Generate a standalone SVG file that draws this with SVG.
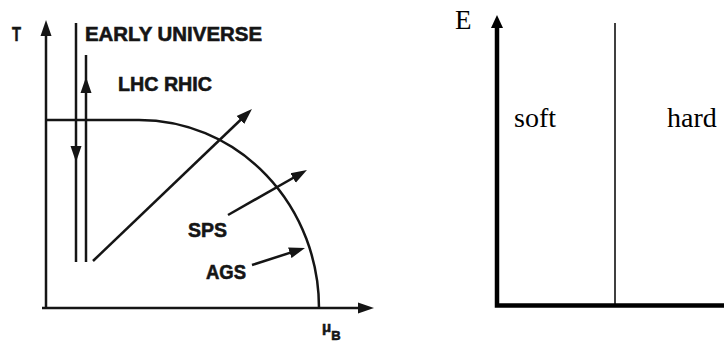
<svg xmlns="http://www.w3.org/2000/svg" width="724" height="343" viewBox="0 0 724 343">
<style>
.ln{fill:none;stroke:#151515;stroke-width:2.5;stroke-linecap:butt}
.lb{font-family:"Liberation Sans",Arial,sans-serif;font-weight:bold;fill:#151515;stroke:#151515;stroke-width:0.6}
.sf{font-family:"Liberation Serif","Times New Roman",serif;fill:#000}
.ax{fill:none;stroke:#000;stroke-width:4.5;stroke-linejoin:miter}
</style>
<defs>
<marker id="ah" viewBox="-8 -6 16 12" markerUnits="userSpaceOnUse" markerWidth="16" markerHeight="12" refX="0" refY="0" orient="auto">
<path d="M8,0 L-8,-5.5 L-8,5.5 Z" fill="#151515"/>
</marker>
<marker id="ahE" viewBox="-2 -7 14 14" markerUnits="userSpaceOnUse" markerWidth="14" markerHeight="14" refX="0" refY="0" orient="auto-start-reverse">
<path d="M11,0 L-2,-6 L-2,6 Z" fill="#000"/>
</marker>
</defs>
<rect width="724" height="343" fill="#fff"/>
<g id="left-diagram">
<g id="axes-left">
<path class="ln" d="M46,308 L46,28" marker-end="url(#ah)"/>
<path class="ln" d="M42,308 L366,308" marker-end="url(#ah)"/>
</g>
<g id="phase-boundary">
<path class="ln" d="M46,120 L139,120 A180,188 0 0 1 319,308"/>
</g>
<g id="connectors">
<path class="ln" d="M76,23 L76,154 L76,262" marker-mid="url(#ah)"/>
<path class="ln" d="M86,262 L86,85 L86,55" marker-mid="url(#ah)"/>
<path class="ln" d="M93,261 L246.2,114.5" marker-end="url(#ah)"/>
<path class="ln" d="M228,215 L300,174" marker-end="url(#ah)"/>
<path class="ln" d="M252,265 L297.4,250.4" marker-end="url(#ah)"/>
</g>
<g id="label-T"><text class="lb" x="12" y="41" font-size="21" textLength="9" lengthAdjust="spacingAndGlyphs">T</text></g>
<g id="label-early"><text class="lb" x="85" y="41" font-size="20" textLength="177" lengthAdjust="spacingAndGlyphs">EARLY UNIVERSE</text></g>
<g id="label-lhc"><text class="lb" x="118" y="91" font-size="20" textLength="94" lengthAdjust="spacingAndGlyphs">LHC RHIC</text></g>
<g id="label-sps"><text class="lb" x="188" y="237" font-size="21" textLength="39" lengthAdjust="spacingAndGlyphs">SPS</text></g>
<g id="label-ags"><text class="lb" x="206" y="279" font-size="20" textLength="40" lengthAdjust="spacingAndGlyphs">AGS</text></g>
<g id="label-mu"><text class="lb" x="322" y="332" font-size="15">μ<tspan font-size="13" dy="8">B</tspan></text></g>
</g>
<g id="right-diagram">
<g id="axes-right">
<path class="ax" d="M497,26 L497,305.5 L724,305.5" marker-start="url(#ahE)"/>
</g>
<g id="divider">
<path d="M615,23 L615,305" fill="none" stroke="#000" stroke-width="1.5"/>
</g>
<g id="label-E"><text class="sf" x="455" y="29" font-size="27">E</text></g>
<g id="label-soft"><text class="sf" x="514" y="127" font-size="28">soft</text></g>
<g id="label-hard"><text class="sf" x="667" y="127" font-size="28">hard</text></g>
</g>
</svg>
